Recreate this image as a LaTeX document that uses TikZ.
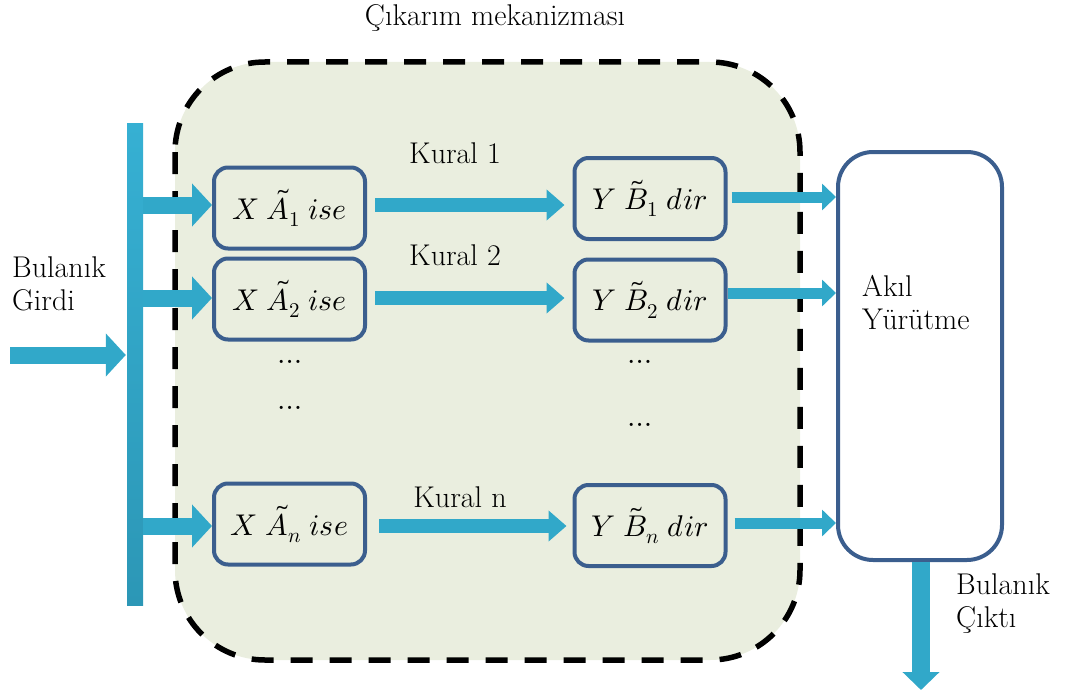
\documentclass[tikz,border=0pt]{standalone}
\usepackage{fontspec}
\usepackage{unicode-math}
\setmathfont{Latin Modern Math}
\newfontfamily\lmr{Latin Modern Roman}
\usetikzlibrary{arrows.meta}
\definecolor{arrowblue}{HTML}{31A8C9}
\definecolor{bartop}{HTML}{36B0D3}
\definecolor{barbot}{HTML}{2C97B6}
\definecolor{boxblue}{HTML}{3B5E8E}
\definecolor{panel}{HTML}{EAEEDF}
\tikzset{
  lbl/.style={font=\lmr\fontsize{30}{33}\selectfont, inner sep=0pt},
  rulebox/.style={draw=boxblue, line width=4pt, rounded corners=14pt, fill=panel,
     minimum width=151pt, minimum height=81pt, inner sep=0pt, font=\fontsize{30}{34}\selectfont},
  bigarrow/.style={draw=arrowblue, line width=17pt, -{Triangle[length=20pt,width=42pt]}},
  midarrow/.style={draw=arrowblue, line width=14pt, -{Triangle[length=18pt,width=30pt]}},
  smallarrow/.style={draw=arrowblue, line width=11pt, -{Triangle[length=14pt,width=26pt]}},
  outarrow/.style={draw=arrowblue, line width=18pt, -{Triangle[length=18pt,width=36pt]}},
}
\begin{document}
\begin{tikzpicture}[x=1pt,y=-1pt]
\useasboundingbox (0,0) rectangle (1067,698);
% container
\draw[fill=panel, line width=5.5pt, dash pattern=on 22pt off 17pt, rounded corners=90pt]
  (175,62) rectangle (800,660);
\node[lbl] (title) at (495,18) {Çıkarım mekanizması};
% bar
\node[top color=bartop, bottom color=barbot, minimum width=16pt, minimum height=482pt, inner sep=0pt] (bar) at (135,364) {};
% rule boxes
\node[rulebox] (a1) at (289.5,208) {$X\;\tilde{A}_1\;ise$};
\node[rulebox] (a2) at (289.5,299) {$X\;\tilde{A}_2\;ise$};
\node[rulebox] (an) at (289.5,524) {$X\;\tilde{A}_n\;ise$};
\node[rulebox] (b1) at (650,198.5) {$Y\;\tilde{B}_1\;dir$};
\node[rulebox] (b2) at (650,300) {$Y\;\tilde{B}_2\;dir$};
\node[rulebox] (bn) at (650,525.5) {$Y\;\tilde{B}_n\;dir$};
% reasoning box
\node[draw=boxblue, fill=white, line width=4pt, rounded corners=35pt, minimum width=164pt, minimum height=408pt] (akil) at (920,356) {};
\node[lbl, anchor=west, align=left] (akiltxt) at (862,303) {Akıl\\Yürütme};
% labels
\node[lbl] (k1) at (455,153) {Kural 1};
\node[lbl] (k2) at (455,255) {Kural 2};
\node[lbl] (kn) at (460,497) {Kural n};
\node[lbl] (d1) at (290,362) {$\ldots$};
\node[lbl] (d2) at (290,408) {$\ldots$};
\node[lbl] (d3) at (640,362) {$\ldots$};
\node[lbl] (d4) at (640,425) {$\ldots$};
\node[lbl, anchor=west, align=left] (girdi) at (12,284) {Bulanık\\Girdi};
\node[lbl, anchor=west, align=left] (cikti) at (956,604) {Bulanık\\Çıktı};
% input
\coordinate (in) at (10,355);
\draw[bigarrow] (in) -- ([xshift=-1pt]bar.west |- in);
\coordinate (r1) at (0,205);
\coordinate (r2) at (0,298);
\coordinate (rn) at (0,526);
\draw[bigarrow] (bar.east |- r1) -- (a1.west |- r1);
\draw[bigarrow] (bar.east |- r2) -- (a2.west |- r2);
\draw[bigarrow] (bar.east |- rn) -- (an.west |- rn);
% rule arrows
\draw[midarrow] ([xshift=8pt]a1.east |- r1) -- ([xshift=-8pt]b1.west |- r1);
\draw[midarrow] ([xshift=8pt]a2.east |- r2) -- ([xshift=-8pt]b2.west |- r2);
\draw[midarrow] ([xshift=12pt]an.east |- rn) -- ([xshift=-6pt]bn.west |- rn);
% to reasoning
\coordinate (s1) at (0,197);
\coordinate (s2) at (0,293);
\coordinate (sn) at (0,523);
\draw[smallarrow] ([xshift=4pt]b1.east |- s1) -- (akil.west |- s1);
\draw[smallarrow] (b2.east |- s2) -- (akil.west |- s2);
\draw[smallarrow] ([xshift=7pt]bn.east |- sn) -- (akil.west |- sn);
% output
\coordinate (out) at (921,690);
\draw[outarrow] (akil.south -| out) -- (out);
\end{tikzpicture}
\end{document}
